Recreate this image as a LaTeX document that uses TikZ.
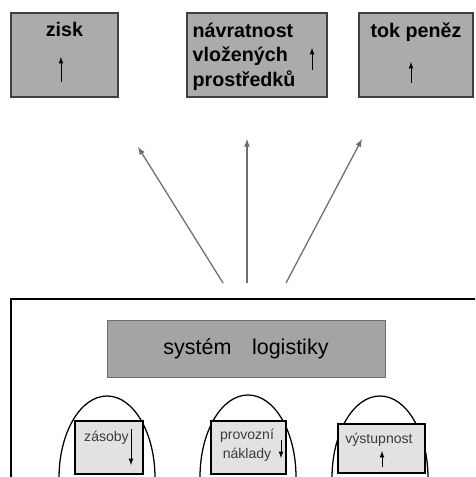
\documentclass[tikz,border=0pt]{standalone}
\usepackage{fontspec}
\setmainfont{Liberation Sans}
\usetikzlibrary{arrows,positioning,shapes.geometric,calc}
\def \unitpx {0.25mm}
\definecolor{boxgray}{HTML}{ABABAB}
\definecolor{sysgray}{HTML}{A4A4A4}
\definecolor{lightbox}{HTML}{E2E2E2}
\definecolor{linegray}{HTML}{6E6E6E}
\definecolor{textgray}{HTML}{3C3C3C}
\tikzset{
 	topblock/.style= {draw=black!75, line width=0.9pt, rectangle, fill=boxgray, minimum height=84*\unitpx, inner sep=0pt},
 	toptext/.style= {font=\fontsize{14}{17.5}\selectfont\bfseries, align=left, inner sep=0pt},
 	sysblock/.style= {draw=linegray, rectangle, fill=sysgray, minimum width=278*\unitpx, minimum height=57*\unitpx, font=\fontsize{15.3}{18}\selectfont},
 	eggblock/.style= {draw, ellipse, line width=0.9pt, minimum width=96*\unitpx, minimum height=164*\unitpx},
 	smallblock/.style= {draw, line width=0.9pt, rectangle, fill=lightbox, minimum height=53*\unitpx, inner sep=0pt},
	smalltext/.style= {font=\fontsize{10}{13.5}\selectfont, text=textgray, align=center, inner sep=0pt},
	tinyarrow/.style= {-latex, line width=0.6pt},
	bigarrow/.style= {-latex, draw=linegray, line width=0.9pt}
 }
\begin{document}
\begin{tikzpicture}[x=\unitpx, y=-\unitpx]
\useasboundingbox (0,0) rectangle (475,477);
\clip (0,0) rectangle (475,477);

%%%%%%%%%%%%%%%%%%%%% Top %%%%%%%%%%%%%%%%%%%%%
	\node [topblock, minimum width=107*\unitpx] (zisk) at (64.5,55) {};
	\node [topblock, minimum width=140*\unitpx] (navrat) at (257,55) {};
	\node [topblock, minimum width=114*\unitpx] (tok) at (416,55) {};
	\node [toptext, below=2.5mm of zisk.north] (ziskT) {zisk};
	\node [toptext, below=2.5mm of tok.north] (tokT) {tok peněz};
	\node [toptext, anchor=north west] (navratT) at ($(navrat.north west)+(6,10)$) {návratnost\\vložených\\prostředků};

	\coordinate (ziskA) at (61,82);  \coordinate (ziskB) at (61,57);
	\coordinate (navratA) at (312,70);  \coordinate (navratB) at (312,48);
	\coordinate (tokA) at (411,83);  \coordinate (tokB) at (411,62);
	\draw [tinyarrow] (ziskA) -- (ziskB);
	\draw [tinyarrow] (navratA) -- (navratB);
	\draw [tinyarrow] (tokA) -- (tokB);

%%%%%%%%%%%%%%%%%%%%% Arrows %%%%%%%%%%%%%%%%%%%%%
	\coordinate (srcL) at (223,283);  \coordinate (dstL) at (138,147);
	\coordinate (srcM) at (247,283);  \coordinate (dstM) at (247,139);
	\coordinate (srcR) at (286,283);  \coordinate (dstR) at (362,139);
	\draw [bigarrow] (srcL) -- (dstL);
	\draw [bigarrow] (srcM) -- (dstM);
	\draw [bigarrow] (srcR) -- (dstR);

%%%%%%%%%%%%%%%%%%%%% System %%%%%%%%%%%%%%%%%%%%%
	\draw [line width=0.9pt] (11,299) rectangle (495,500);
	\node [sysblock] (system) at (246,348.5) {systém\hspace{0.95em}logistiky};

	\node [eggblock] (eggA) at (107,478) {};
	\node [eggblock] (eggB) at (248,477) {};
	\node [eggblock] (eggC) at (380,478) {};

	\node [smallblock, minimum width=68*\unitpx] (zasoby) at (109,447.5) {};
	\node [smallblock, minimum width=75*\unitpx] (provoz) at (248.5,447.5) {};
	\node [smallblock, minimum width=87*\unitpx, minimum height=49*\unitpx] (vystup) at (381.5,448.5) {};

	\node [smalltext] (zasobyT) at (106.5,438) {zásoby};
	\node [smalltext] (provozT) at (247,445) {provozní\\náklady};
	\node [smalltext] (vystupT) at (379,440) {výstupnost};

	\coordinate (zasobyA) at (131,429);  \coordinate (zasobyB) at (131,465);
	\coordinate (provozA) at (281,440);  \coordinate (provozB) at (281,458);
	\coordinate (vystupA) at (382,467);  \coordinate (vystupB) at (382,451);
	\draw [tinyarrow] (zasobyA) -- (zasobyB);
	\draw [tinyarrow] (provozA) -- (provozB);
	\draw [tinyarrow] (vystupA) -- (vystupB);

\end{tikzpicture}
\end{document}
